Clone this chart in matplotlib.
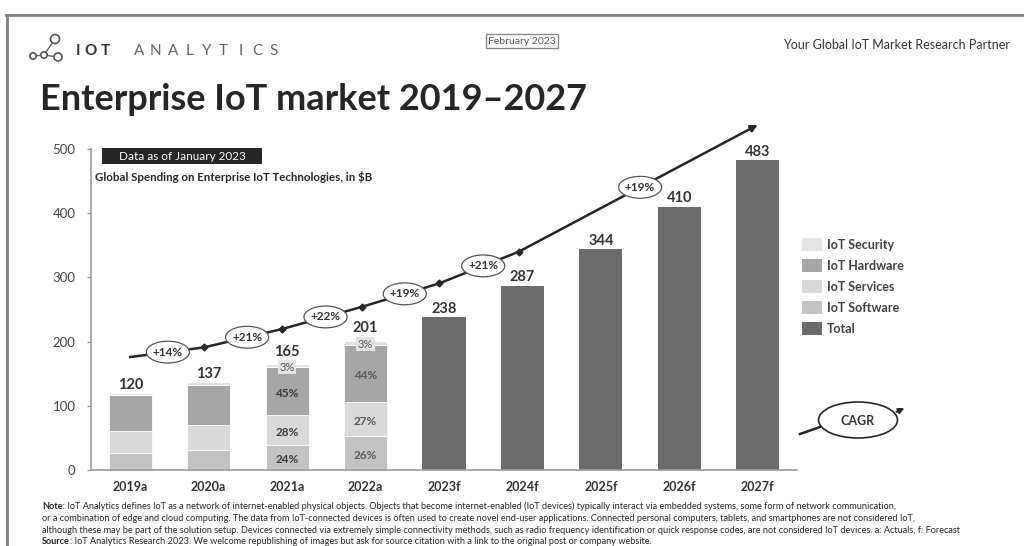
import numpy as np
import matplotlib.pyplot as plt
from matplotlib.patches import Ellipse, Rectangle, Circle, Patch

plt.rcParams['font.family'] = ['Lato', 'DejaVu Sans']

years = ['2019a', '2020a', '2021a', '2022a', '2023f', '2024f', '2025f', '2026f', '2027f']
totals = [120, 137, 165, 201, 238, 287, 344, 410, 483]

# segment shares (in %) of the actual years, bottom to top
software = [22, 23, 24, 26]
services = [29, 28, 28, 27]
hardware = [47, 46, 45, 44]
security = [2, 3, 3, 3]
show_shares = [False, False, True, True]

# growth trend line and its CAGR bubbles
trend_x = [0, 0.94, 1.94, 2.95, 3.94, 4.95, 8.0]
trend_y = [176, 191, 219.7, 254, 290.7, 339.8, 537.6]
cagr_pos = [0.48, 1.49, 2.49, 3.5, 4.5, 6.5]
cagr_text = ['+14%', '+21%', '+22%', '+19%', '+21%', '+19%']

legend_names = ['IoT Security', 'IoT Hardware', 'IoT Services', 'IoT Software', 'Total']

c_soft = '#c3c3c3'
c_serv = '#d9d9d9'
c_hw = '#a6a6a6'
c_sec = '#e4e4e4'
c_total = '#6b6b6b'
dark = '#262626'

fig = plt.figure(figsize=(10.24, 5.46), dpi=100)

# pixel-space layer for frame, header and footer
bg = fig.add_axes([0, 0, 1, 1], zorder=0)
bg.set_xlim(0, 1024)
bg.set_ylim(546, 0)
bg.axis('off')

bg.plot([6, 1024], [15, 15], color='#808080', lw=2)
bg.plot([7, 7], [15, 546], color='#808080', lw=2)

# logo
nodes = [(33, 56), (44, 55), (58, 57), (55, 39)]
bg.plot([33, 44, 55], [56, 55, 39], color='#666666', lw=1)
bg.plot([44, 58], [55, 57], color='#666666', lw=1)
for (cx, cy), r in zip(nodes, [3.2, 3.2, 4, 4.5]):
    bg.add_patch(Circle((cx, cy), r, facecolor='white', edgecolor='#555555', lw=1.2, zorder=3))
for ch, xx in zip('IOT', [78, 91, 105]):
    bg.text(xx, 51, ch, fontsize=11, fontweight='bold', color='#333333', ha='center', va='center')
for ch, xx in zip('ANALYTICS', np.linspace(139, 274, 9)):
    bg.text(xx, 51, ch, fontsize=11, color='#666666', ha='center', va='center')

bg.text(522, 41, 'February 2023', fontsize=7.5, color='#555555', ha='center', va='center',
        bbox=dict(boxstyle='square,pad=0.25', facecolor='white', edgecolor='#888888', lw=1))
bg.text(1010, 45, 'Your Global IoT Market Research Partner', fontsize=9, color='#333333',
        ha='right', va='center')

bg.text(40, 110, 'Enterprise IoT market 2019–2027', fontsize=26, fontweight='bold',
        color=dark, ha='left', va='baseline')

bg.add_patch(Rectangle((102, 148), 160, 16, facecolor=dark, edgecolor='none', zorder=3))
bg.text(182, 156, 'Data as of January 2023', fontsize=8.5, color='white', ha='center',
        va='center', zorder=4)
bg.text(95, 177, 'Global Spending on Enterprise IoT Technologies, in $B', fontsize=8.3,
        fontweight='bold', color=dark, ha='left', va='center', zorder=4)

# CAGR key
bg.plot([800, 820], [434, 427], color=dark, lw=1.8)
bg.add_patch(Ellipse((858, 420), 79, 36, facecolor='white', edgecolor=dark, lw=1.2))
bg.annotate('', xy=(907, 407), xytext=(894, 413),
            arrowprops=dict(arrowstyle='-|>', color=dark, lw=1.5, mutation_scale=8))
bg.text(858, 421, 'CAGR', fontsize=9, fontweight='bold', color='#333333', ha='center', va='center')

# footnotes, shrunk afterwards so the longest line ends near x=955
notes = [
    ('Note:', ' IoT Analytics defines IoT as a network of internet-enabled physical objects. Objects that become '
              'internet-enabled (IoT devices) typically interact via embedded systems, some form of network communication,'),
    ('', 'or a combination of edge and cloud computing. The data from IoT-connected devices is often used to create '
         'novel end-user applications. Connected personal computers, tablets, and smartphones are not considered IoT,'),
    ('', 'although these may be part of the solution setup. Devices connected via extremely simple connectivity methods, '
         'such as radio frequency identification or quick response codes, are not considered IoT devices. a: Actuals, f: Forecast'),
    ('Source', ': IoT Analytics Research 2023. We welcome republishing of images but ask for source citation with a '
               'link to the original post or company website.'),
]
note_texts = []
longest = None
for i, (head, body) in enumerate(notes):
    yy = 509 + i * 11.8
    if head:
        t = bg.text(42, yy, head, fontsize=6.5, fontweight='bold', color=dark,
                    ha='left', va='baseline')
        b = bg.annotate(body, xy=(1, 0), xycoords=t, fontsize=6.5, color=dark,
                        ha='left', va='bottom')
        note_texts += [t, b]
    else:
        b = bg.text(42, yy, body, fontsize=6.5, color=dark, ha='left', va='baseline')
        note_texts.append(b)
    if i == 2:
        longest = b

renderer = fig.canvas.get_renderer()
right = longest.get_window_extent(renderer).x1
scale = (955 - 42) / (right - 42)
for t in note_texts:
    t.set_fontsize(6.5 * scale)

# main chart
ax = fig.add_axes([91 / 1024, 76 / 546, 706 / 1024, 321 / 546], zorder=1)
ax.patch.set_alpha(0)
x = np.arange(len(years))
w = 0.55
n_act = len(software)
act_tot = np.array(totals[:n_act], dtype=float)

bottom = np.zeros(n_act)
seg_heights = []
for shares, col in [(software, c_soft), (services, c_serv), (hardware, c_hw), (security, c_sec)]:
    h = act_tot * np.array(shares) / 100
    ax.bar(x[:n_act], h, w, bottom=bottom, color=col, edgecolor='white', lw=0.6)
    seg_heights.append((bottom.copy(), h, shares))
    bottom += h
ax.bar(x[n_act:], totals[n_act:], w, color=c_total)

share_colors = ['#3a3a3a', '#3a3a3a', '#3a3a3a', '#5a5a5a']
for i in range(n_act):
    if not show_shares[i]:
        continue
    for k, (b, h, shares) in enumerate(seg_heights):
        if k < 3:
            ax.text(x[i], b[i] + h[i] / 2 - 4, f'{shares[i]}%', fontsize=8.5, fontweight='bold',
                    color=share_colors[i], ha='center', va='center')
        else:
            ax.text(x[i], b[i] + h[i] - 5, f'{shares[i]}%', fontsize=8, color='#555555',
                    ha='center', va='center',
                    bbox=dict(boxstyle='square,pad=0.15', facecolor=c_sec, edgecolor='none'))

for i, t in enumerate(totals):
    off = 4 if (i < n_act and show_shares[i]) else 1
    ax.annotate(str(t), (x[i], t), xytext=(0, off), textcoords='offset points', ha='center',
                va='bottom', fontsize=10.5, fontweight='bold', color='#333333')

# trend line with CAGR bubbles
ax.plot(trend_x[:-1], trend_y[:-1], color=dark, lw=1.8, marker='D', markersize=3.5,
        markevery=list(range(1, len(trend_x) - 1)), clip_on=False, zorder=4)
ax.annotate('', xy=(trend_x[-1], trend_y[-1]), xytext=(trend_x[-2], trend_y[-2]),
            arrowprops=dict(arrowstyle='-|>', color=dark, lw=1.8, mutation_scale=10,
                            shrinkA=0, shrinkB=0), annotation_clip=False, zorder=4)
for xp, lab in zip(cagr_pos, cagr_text):
    yp = np.interp(xp, trend_x, trend_y)
    ax.add_patch(Ellipse((xp, yp), 0.55, 34, facecolor='white', edgecolor='#555555', lw=0.9,
                         zorder=5, clip_on=False))
    ax.text(xp, yp, lab, fontsize=8.5, fontweight='bold', color='#333333', ha='center',
            va='center', zorder=6)

ax.set_xlim(-0.5, 8.5)
ax.set_ylim(0, 500)
ax.set_yticks(np.arange(0, 501, 100))
ax.set_xticks(x)
ax.set_xticklabels(years, fontweight='bold', fontsize=9, color='#333333')
ax.tick_params(axis='x', length=0, pad=8)
ax.tick_params(axis='y', length=3, width=1, color='#999999', labelsize=9.5,
               labelcolor='#444444', pad=8)
for side in ['top', 'right']:
    ax.spines[side].set_visible(False)
for side in ['left', 'bottom']:
    ax.spines[side].set_color('#999999')
    ax.spines[side].set_linewidth(1.2)

handles = [Patch(facecolor=c) for c in [c_sec, c_hw, c_serv, c_soft, c_total]]
fig.legend(handles, legend_names, loc='upper left', bbox_to_anchor=(802 / 1024, 1 - 238 / 546),
           frameon=False, handlelength=1.6, handleheight=1.2, handletextpad=0.4,
           labelspacing=0.66, borderpad=0, borderaxespad=0,
           prop=dict(weight='bold', size=9), labelcolor='#404040')

fig.savefig('out.png', dpi=100, facecolor='white')
